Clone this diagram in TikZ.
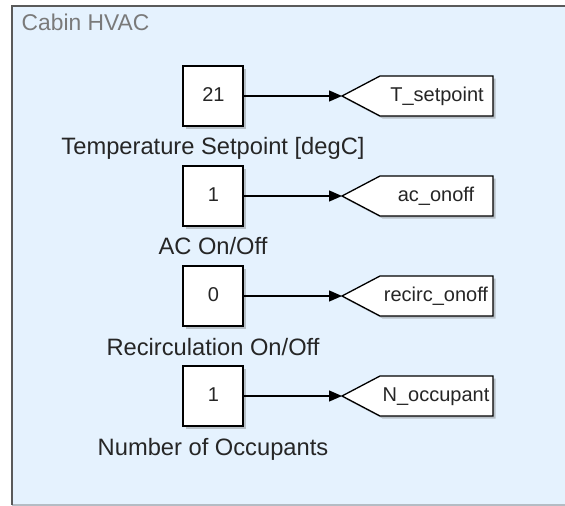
\documentclass[tikz,border=0pt]{standalone}
\usepackage{fontspec}
\setmainfont{Liberation Sans}
\usetikzlibrary{arrows.meta,shadows}
\definecolor{panelbg}{HTML}{E5F2FE}
\definecolor{paneledge}{HTML}{5A5A5A}
\definecolor{panelbottom}{HTML}{B4BCC4}
\definecolor{titlegray}{HTML}{7A7A7A}
\definecolor{labelgray}{HTML}{262626}
\tikzset{
  shade/.style={drop shadow={fill=black!60,opacity=0.35,shadow xshift=2.5pt,shadow yshift=-2.5pt}},
  constbox/.style={draw=black,line width=1.3pt,fill=white,minimum width=60pt,minimum height=60pt,inner sep=0pt,shade},
  numtext/.style={inner sep=0pt,anchor=base,font=\fontsize{20}{24}\selectfont,text=labelgray},
  tagshape/.style={draw=black,line width=1.3pt,fill=white,shade},
  tagtext/.style={inner sep=0pt,anchor=base,font=\fontsize{20}{24}\selectfont,text=labelgray},
  blocklabel/.style={inner sep=0pt,anchor=base,font=\fontsize{23.7}{28}\selectfont,text=labelgray},
  sig/.style={line width=1.3pt,-{Triangle[length=13pt,width=11pt]}},
}
\begin{document}
\begin{tikzpicture}[x=1pt,y=-1pt]
\useasboundingbox (0,0) rectangle (565,506);
\fill[white] (0,0) rectangle (565,506);
\fill[panelbg] (12,6) rectangle (565,505);
\draw[panelbottom,line width=1.5pt] (12,505) -- (565,505);
\draw[paneledge,line width=2pt] (12,505) -- (12,6) -- (565,6);
\node[anchor=base west,inner sep=0pt,font=\fontsize{22.8}{27}\selectfont,text=titlegray] (title) at (21.5,30) {Cabin HVAC};

% block 1
\node[constbox] (b1) at (213,96) {};
\node[numtext] (n1) at (213.5,101) {21};
\node[blocklabel] (l1) at (213,154) {Temperature Setpoint [degC]};
\coordinate (t1) at (342,96);
\draw[tagshape] (t1) -- ++(38,-20) -- ++(113,0) -- ++(0,40) -- ++(-113,0) -- cycle;
\node[tagtext] (g1) at (437,101) {T\_setpoint};
\draw[sig] (b1.east) -- (t1);

% block 2
\node[constbox] (b2) at (213,196) {};
\node[numtext] (n2) at (213.5,201) {1};
\node[blocklabel] (l2) at (213,254.5) {AC On/Off};
\coordinate (t2) at (342,196);
\draw[tagshape] (t2) -- ++(38,-20) -- ++(113,0) -- ++(0,40) -- ++(-113,0) -- cycle;
\node[tagtext] (g2) at (436,201) {ac\_onoff};
\draw[sig] (b2.east) -- (t2);

% block 3
\node[constbox] (b3) at (213,296) {};
\node[numtext] (n3) at (213.5,301) {0};
\node[blocklabel] (l3) at (213,355) {Recirculation On/Off};
\coordinate (t3) at (342,296);
\draw[tagshape] (t3) -- ++(38,-20) -- ++(113,0) -- ++(0,40) -- ++(-113,0) -- cycle;
\node[tagtext] (g3) at (436,301) {recirc\_onoff};
\draw[sig] (b3.east) -- (t3);

% block 4
\node[constbox] (b4) at (213,396) {};
\node[numtext] (n4) at (213.5,401) {1};
\node[blocklabel] (l4) at (213,455) {Number of Occupants};
\coordinate (t4) at (342,396);
\draw[tagshape] (t4) -- ++(38,-20) -- ++(113,0) -- ++(0,40) -- ++(-113,0) -- cycle;
\node[tagtext] (g4) at (436,401) {N\_occupant};
\draw[sig] (b4.east) -- (t4);
\end{tikzpicture}
\end{document}
